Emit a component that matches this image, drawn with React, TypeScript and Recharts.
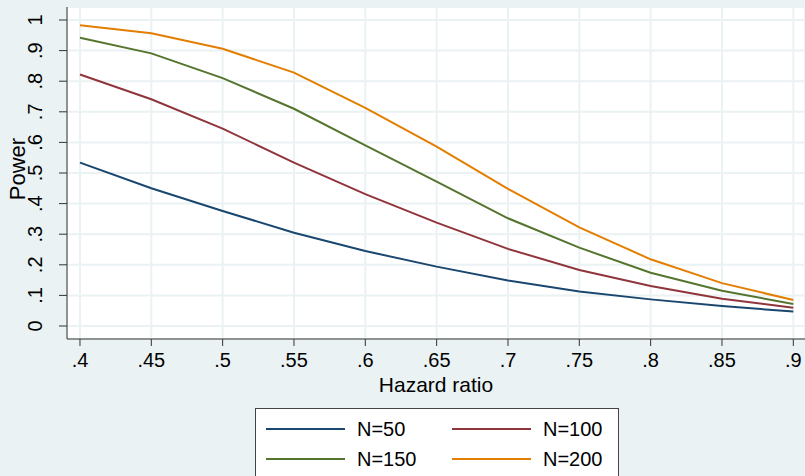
import { LineChart, Line, XAxis, YAxis, CartesianGrid } from 'recharts';

const hazardRatios = [0.4, 0.45, 0.5, 0.55, 0.6, 0.65, 0.7, 0.75, 0.8, 0.85, 0.9];
const powerN50 = [0.534, 0.45, 0.376, 0.305, 0.245, 0.194, 0.149, 0.113, 0.087, 0.065, 0.047];
const powerN100 = [0.822, 0.741, 0.645, 0.534, 0.431, 0.338, 0.252, 0.183, 0.131, 0.089, 0.06];
const powerN150 = [0.942, 0.891, 0.81, 0.71, 0.59, 0.472, 0.352, 0.256, 0.174, 0.115, 0.072];
const powerN200 = [0.983, 0.957, 0.906, 0.828, 0.713, 0.586, 0.448, 0.322, 0.218, 0.14, 0.085];
const xTicks = [0.4, 0.45, 0.5, 0.55, 0.6, 0.65, 0.7, 0.75, 0.8, 0.85, 0.9];
const yTicks = [0, 0.1, 0.2, 0.3, 0.4, 0.5, 0.6, 0.7, 0.8, 0.9, 1];

const series = [
  { key: 'n50', name: 'N=50', color: '#1a476f', values: powerN50 },
  { key: 'n100', name: 'N=100', color: '#90353b', values: powerN100 },
  { key: 'n150', name: 'N=150', color: '#55752f', values: powerN150 },
  { key: 'n200', name: 'N=200', color: '#e37e00', values: powerN200 },
];

const data = hazardRatios.map((hr, i) => {
  const row: Record<string, number> = { hr };
  series.forEach((s) => (row[s.key] = s.values[i]));
  return row;
});

const FONT = '"Liberation Sans", Arial, sans-serif';
const BG = '#eaf2f3';

// stata style: drop the leading zero
const fmt = (v: number) => {
  if (v === 0) return '0';
  if (v === 1) return '1';
  return String(+v.toFixed(2)).replace(/^0/, '');
};

function YTick({ y, payload }: any) {
  return (
    <text
      transform={`translate(42, ${y}) rotate(-90)`}
      textAnchor="middle"
      fontSize={20}
      fontFamily={FONT}
      fill="#000"
    >
      {fmt(payload.value)}
    </text>
  );
}

function LegendBox() {
  const rows = [series.slice(0, 2), series.slice(2, 4)];
  return (
    <div
      style={{
        position: 'absolute',
        left: 255,
        top: 408,
        width: 362,
        height: 90,
        background: '#fff',
        border: '1px solid #444',
        fontFamily: FONT,
        fontSize: 20,
      }}
    >
      {rows.map((row, r) =>
        row.map((s, c) => (
          <div key={s.key}>
            <div
              style={{
                position: 'absolute',
                left: c === 0 ? 10 : 196,
                top: r === 0 ? 19 : 49,
                width: 79,
                height: 2,
                background: s.color,
              }}
            />
            <div
              style={{
                position: 'absolute',
                left: c === 0 ? 101 : 287,
                top: r === 0 ? 9 : 39,
                lineHeight: '22px',
                color: '#000',
              }}
            >
              {s.name}
            </div>
          </div>
        ))
      )}
    </div>
  );
}

export default function App() {
  return (
    <div style={{ position: 'relative', width: 805, height: 476, background: BG, overflow: 'hidden' }}>
      <style>{`body{margin:0}`}</style>
      <LineChart
        width={805}
        height={476}
        data={data}
        margin={{ top: 7, right: 0, bottom: 0, left: 0 }}
        style={{ fontFamily: FONT }}
      >
        <CartesianGrid stroke={BG} strokeWidth={2} fill="#fff" />
        <XAxis
          dataKey="hr"
          type="number"
          domain={[0.3909, 0.9082]}
          ticks={xTicks}
          tickFormatter={fmt}
          allowDataOverflow
          height={137}
          tickSize={7}
          tickMargin={7}
          stroke="#333"
          tick={{ fill: '#000', fontSize: 20, fontFamily: FONT }}
          label={{
            content: () => (
              <text x={436} y={392} textAnchor="middle" fontSize={21} fontFamily={FONT} fill="#000">
                Hazard ratio
              </text>
            ),
          }}
        />
        <YAxis
          type="number"
          domain={[-0.0425, 1.0425]}
          ticks={yTicks}
          allowDataOverflow
          width={67}
          tickSize={8}
          stroke="#333"
          tick={<YTick />}
          label={{
            content: () => (
              <text
                transform="translate(25, 169) rotate(-90)"
                textAnchor="middle"
                fontSize={22}
                fontFamily={FONT}
                fill="#000"
              >
                Power
              </text>
            ),
          }}
        />
        {series.map((s) => (
          <Line
            key={s.key}
            type="linear"
            dataKey={s.key}
            name={s.name}
            stroke={s.color}
            strokeWidth={2}
            dot={false}
            isAnimationActive={false}
          />
        ))}
      </LineChart>
      <LegendBox />
    </div>
  );
}
